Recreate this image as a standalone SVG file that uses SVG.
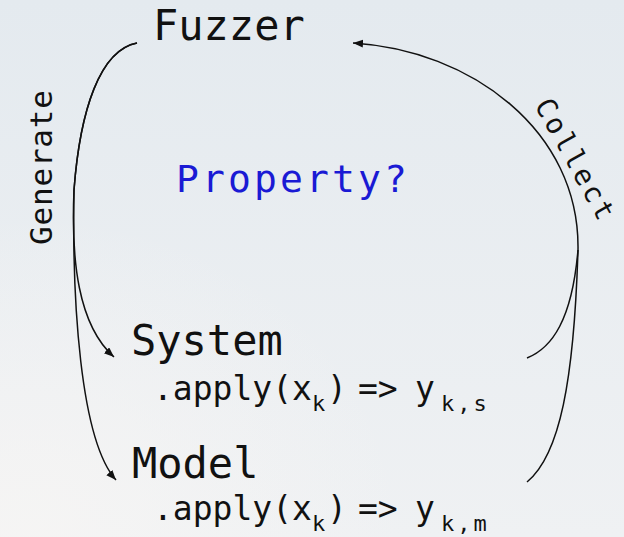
<svg xmlns="http://www.w3.org/2000/svg" width="624" height="537" viewBox="0 0 624 537">
  <defs>
    <linearGradient id="bg" x1="0" y1="0" x2="0" y2="1">
      <stop offset="0" stop-color="#e4eaef"/>
      <stop offset="1" stop-color="#eff1f3"/>
    </linearGradient>
    <radialGradient id="glow" cx="0.05" cy="1" r="0.6">
      <stop offset="0" stop-color="#f6f5f4" stop-opacity="0.9"/>
      <stop offset="1" stop-color="#f6f5f4" stop-opacity="0"/>
    </radialGradient>
    <marker id="arrow" markerUnits="userSpaceOnUse" markerWidth="12" markerHeight="10" refX="10" refY="4" orient="auto">
      <path d="M0,0 L10,4 L0,8 Z" fill="#111"/>
    </marker>
    <style>
      .mono { font-family: "DejaVu Sans Mono", "Liberation Mono", monospace; fill: #111; }
      .title { font-size: 42px; }
      .code { font-size: 33px; }
      .sub { font-size: 22px; }
      .spaced { letter-spacing: 3px; }
      .label { font-size: 31px; }
      .label-r { font-size: 28px; }
      .prop { font-size: 38px; fill: #1a1ad4; }
      .edge { fill: none; stroke: #111; stroke-width: 1.5; }
    </style>
  </defs>

  <rect x="0" y="0" width="624" height="537" fill="url(#bg)"/>
  <rect x="0" y="0" width="624" height="537" fill="url(#glow)"/>

  <!-- connectors -->
  <g id="connectors">
    <path class="edge" d="M137,43 C100,50 80,110 74,190 C71,260 78,325 114,357" marker-end="url(#arrow)"/>
    <path class="edge" d="M137,43 C100,50 80,110 74,190 C72,300 80,440 116,480" marker-end="url(#arrow)"/>
    <path class="edge" d="M527,358 C552,348 572,320 578,250 C580,130 470,50 353,43" marker-end="url(#arrow)"/>
    <path class="edge" d="M527,482 C560,455 574,380 578,250"/>
    <text class="mono label" transform="translate(52,245) rotate(-90)" textLength="155">Generate</text>
    <text class="mono label-r" transform="translate(534,105) rotate(61)" textLength="134">Collect</text>
  </g>

  <g id="fuzzer">
    <text class="mono title" x="153" y="40">Fuzzer</text>
  </g>

  <g id="property">
    <text class="mono prop" x="176" y="192" textLength="231" lengthAdjust="spacing">Property?</text>
  </g>

  <g id="system">
    <text class="mono title" x="131" y="355">System</text>
    <text class="mono code" x="153" y="400">.apply(x<tspan class="sub" x="312" dy="11">k</tspan><tspan x="327" dy="-11">)</tspan><tspan x="358">=&gt;</tspan><tspan x="415">y</tspan><tspan class="sub spaced" x="441" dy="11">k,s</tspan></text>
  </g>

  <g id="model">
    <text class="mono title" x="132" y="478">Model</text>
    <text class="mono code" x="153" y="520">.apply(x<tspan class="sub" x="312" dy="11">k</tspan><tspan x="327" dy="-11">)</tspan><tspan x="358">=&gt;</tspan><tspan x="415">y</tspan><tspan class="sub spaced" x="441" dy="11">k,m</tspan></text>
  </g>
</svg>
